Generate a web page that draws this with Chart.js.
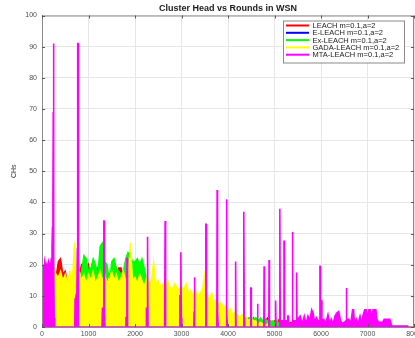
<!DOCTYPE html>
<html><head><meta charset="utf-8">
<script src="https://cdn.jsdelivr.net/npm/chart.js@4/dist/chart.umd.min.js"></script>
<style>
html,body{margin:0;padding:0;background:#fff;overflow:hidden;width:415px;height:338px}
#wrap{position:relative;width:440px;height:338px}
</style></head>
<body><div id="wrap"><canvas id="c" width="440" height="338"></canvas></div>
<script>
// ---- data (rounds step for the sampled series) ----
const ROUND_STEP = 50;
const seriesLabels = ["LEACH m=0.1,a=2","E-LEACH m=0.1,a=2","Ex-LEACH m=0.1,a=2","GADA-LEACH m=0.1,a=2","MTA-LEACH m=0.1,a=2"];
const xTicks = [0,1000,2000,3000,4000,5000,6000,7000,8000];
const yTicks = [0,10,20,30,40,50,60,70,80,90,100];

// LEACH, rounds 0..8000 every 50
const leachValues = [
 18,19,17,20,18,16,16,21,22,17,
 18,14,16,15,17,15,17,20,19,16,
 20,16,17,16,19,17,16,16,16,17,
 16,16,16,19,19,16,16,16,16,15,
 15,14,15,13,14,12,13,12,12,11,
 11,10,11,10,9,10,9,9,8,9,
 8,9,8,7,8,7,7,6,7,6,
 6,5,6,5,5,4,5,4,4,3,
 4,3,3,4,3,2.5,3,2,3,2,
 2,3,1.5,2,2.5,1.5,2,3,2,1.5,
 2,1.5,2.5,2,1.5,2,1,1.5,1,0.5,
 0,0,0,0,0,0,0,0,0,0,
 0,0,0,0,0,0,0,0,0,0,
 0,0,0,0,0,0,0,0,0,0,
 0,0,0,0,0,0,0,0,0,0,
 0,0,0,0,0,0,0,0,0,0,
 0];
// E-LEACH, rounds 0..4500 every 50
const eleachValues = [
 16,17,15,17,16,15,15,15,16,14,
 15,13,15,14,14,15,14,14,15,13,
 15,14,15,13,13,15,14,13,13,13,
 13,14,12,13,12,13,12,11,12,11,
 11,10,11,10,9,10,9,9,8,9,
 8,8,7,8,7,7,6,7,6,6,
 6,5,6,5,5,4,5,4,4,4,
 4,3,4,3,3,3,2,3,2,2,
 2,2,2,1.5,2,1.5,1,1.5,1,1,
 0];
// Ex-LEACH, rounds 0..5500 every 50
const exleachValues = [
 17,18,16,17,15,16,15,15,15,14,
 15,13,15,16,16,15,16,18,23,22,
 18,19,22,20,17,26,27,21,20,15,
 21,22,19,18,17,18,22,24,23,21,
 21,22,20,22,19,15,14,13,12,12,
 11,10,10,9,9,8,8,7,7,6,
 6,6,5,5,5,4,4,4,3,3,
 3,3,3,2,3,2,3,2,2,3,
 2,3,2,2,3,2,2,3,2.5,3,
 3,2.5,3,2,3,2,2.5,2,1.5,2,
 1.5,2,1,1.5,1,1.5,1,1,0.5,0.5,
 0];
// GADA-LEACH, rounds 0..5000 every 50
const gadaValues = [
 19,20,18,21,19,20,17,16,18,15,
 17,14,18,15,27,16,18,15,17,14,
 17,15,18,14,16,18,15,17,14,16,
 18,15,17,14,16,18,15,16,27,15,
 16,14,17,15,13,16,14,15,21,14,
 15,13,14,12,15,13,12,14,13,12,
 13,12,14,11,12,10,12,10,11,12,
 17,10,9,11,8,9,7,8,6,7,
 5,6,4,5,4,3,4,3,3,2,
 3,2,2,1,1.5,1,0.5,1,0,0,
 0];
// MTA-LEACH (irregular rounds)
const mtaRounds = [
 0,20,40,60,80,100,120,140,160,180,200,215,225,235,242,246,252,256,262,275,
 705,712,730,750,760,766,770,776,781,790,
 1290,1300,1322,1330,1337,1345,1355,
 1800,1806,1820,1826,1832,1840,
 2240,2246,2262,2267,2273,2280,
 2625,2631,2644,2648,2654,2662,
 2960,2966,2979,2983,2989,2996,3005,
 3265,3271,3276,3282,3288,
 3515,3521,3526,3532,3538,
 3760,3766,3772,3778,3790,
 3960,3966,3972,3978,3990,
 4155,4161,4167,4173,
 4330,4337,4343,4350,4360,
 4484,4490,4496,4502,
 4629,4634,4640,4645,
 4770,4776,4782,4788,
 4877,4883,4889,4895,
 5015,5021,5027,5033,
 5106,5112,5118,5124,
 5198,5204,5210,5216,
 5280,5285,5296,5302,
 5378,5384,5390,5396,
 5466,5472,5478,5484,
 5550,5600,5640,5680,5720,5760,5800,5830,5860,5900,5940,
 5972,5977,5983,5990,6010,6020,
 6060,6100,6150,6190,6220,6260,6300,6340,6380,6420,6460,
 6538,6543,6550,6556,6600,6640,6680,6700,6720,6760,6800,6840,6880,6900,6940,6970,
 7000,7030,7060,7090,7120,7150,7180,7200,7240,7280,7320,7360,7400,7440,7480,7520,7860,7880];
const mtaValues = [
 16,20,18,21,19,20,18,21,20,19,22,26,32,42,69,91,91,20,3,0,
 0,9,10,11,25,82,91,91,10,0,
 0,6,6,34,34,5,0,
 0,3,3,22,22,0,
 0,6,6,29,29,0,
 0,4,4,34,34,0,
 0,10,10,24,24,3,0,
 0,5,16,16,0,
 0,7,33,33,0,
 0,44,44,5,0,
 0,41,41,4,0,
 0,21,21,0,
 0,37,37,3,0,
 0,12.5,12.5,0,
 0,7.5,7.5,0,
 0,19.5,19.5,0,
 0,21.5,21.5,0,
 0,8.5,8.5,0,
 0,38,38,2,
 2,27.5,27.5,2,
 2,3.5,3.5,1,
 1,30.5,30.5,2,
 2,17.5,17.5,2,
 3.5,1,3.5,1,3.5,2,5.5,4.5,1.5,3,2,
 2,19.5,19.5,8.5,8.5,2,
 2.5,1,4,1,2.5,1,3.5,4.5,5,2,1,
 2,12.5,12.5,2.5,2.5,1,5.5,5.5,1,2.5,1,3.5,1,3.5,5.5,5.5,
 3,5.5,5.5,3,5.5,5.5,5.5,2.5,1.5,1.5,1.5,2.5,2.5,2.5,2.5,0.3,0.3,0];

const seriesColors = ['#ff0000','#0000ff','#00ff00','#ffff00','#ff00ff'];

// ---- build ----
const stepPoints = vals => vals.map((v,i)=>({x:i*ROUND_STEP, y:v}));
const mtaPoints = mtaRounds.map((r,i)=>({x:r, y:mtaValues[i]}));
const seriesData = [stepPoints(leachValues), stepPoints(eleachValues), stepPoints(exleachValues), stepPoints(gadaValues), mtaPoints];

const FONT = '"Liberation Sans", Arial, Helvetica, sans-serif';

const datasets = seriesLabels.map((lab,i)=>({
  label: lab,
  data: seriesData[i],
  borderColor: seriesColors[i],
  backgroundColor: seriesColors[i],
  borderWidth: i===4 ? 1.6 : 1.2,
  pointRadius: 0,
  tension: 0,
  fill: 'origin',
  order: 5 - i
}));

const framePlugin = {
  id:'frame',
  afterDatasetsDraw(chart){
    const {ctx, chartArea:a, scales:{x,y}} = chart;
    ctx.save();
    ctx.strokeStyle = '#8a8a8a';
    ctx.lineWidth = 1;
    ctx.beginPath();
    ctx.moveTo(a.left+0.5, a.top+0.5); ctx.lineTo(a.right-0.5, a.top+0.5);
    ctx.lineTo(a.right-0.5, a.bottom); 
    ctx.moveTo(a.left+0.5, a.top); ctx.lineTo(a.left+0.5, a.bottom);
    ctx.stroke();
    ctx.strokeStyle = '#555';
    ctx.beginPath();
    const tl = 3;
    xTicks.forEach(v=>{
      const px = Math.round(x.getPixelForValue(v))+0.5;
      ctx.moveTo(px, a.bottom); ctx.lineTo(px, a.bottom-tl);
      ctx.moveTo(px, a.top); ctx.lineTo(px, a.top+tl);
    });
    yTicks.forEach(v=>{
      const py = Math.round(y.getPixelForValue(v))+0.5;
      ctx.moveTo(a.left, py); ctx.lineTo(a.left+tl, py);
      ctx.moveTo(a.right, py); ctx.lineTo(a.right-tl, py);
    });
    ctx.stroke();
    ctx.restore();
  },
  afterDraw(chart){
    const {ctx, chartArea:a} = chart;
    ctx.save();
    // title
    ctx.font = 'bold 9px ' + FONT;
    ctx.fillStyle = '#1a1a1a';
    ctx.textAlign = 'center';
    ctx.textBaseline = 'middle';
    ctx.fillText('Cluster Head vs Rounds in WSN', (a.left+a.right)/2, 8.5);
    // legend
    const bx = a.right - 131, by = a.top + 5, bw = 121, bh = 42;
    ctx.fillStyle = '#fff';
    ctx.fillRect(bx, by, bw, bh);
    ctx.strokeStyle = '#8a8a8a';
    ctx.lineWidth = 1;
    ctx.strokeRect(bx+0.5, by+0.5, bw, bh);
    ctx.font = '7.5px ' + FONT;
    ctx.textAlign = 'left';
    chart.data.datasets.forEach((ds,i)=>{
      const yy = by + 5 + i*7.3;
      ctx.strokeStyle = ds.borderColor;
      ctx.lineWidth = 2;
      ctx.beginPath(); ctx.moveTo(bx+3, yy); ctx.lineTo(bx+26, yy); ctx.stroke();
      ctx.fillStyle = '#1a1a1a';
      ctx.fillText(ds.label, bx+29.5, yy+0.5);
    });
    ctx.restore();
  }
};

new Chart(document.getElementById('c'), {
  type:'line',
  data:{datasets},
  plugins:[framePlugin],
  options:{
    responsive:false, animation:false, devicePixelRatio:1,
    layout:{padding:{top:15.5, right:26, left:0, bottom:0}},
    plugins:{legend:{display:false}, tooltip:{enabled:false}, title:{display:false}},
    scales:{
      x:{type:'linear', min:0, max:8000,
         afterBuildTicks: s => { s.ticks = xTicks.map(v=>({value:v})); },
         ticks:{font:{family:FONT,size:7}, color:'#4d4d4d', padding:3, maxRotation:0, autoSkip:false, callback:v=>String(v)},
         grid:{color:'#e6e6e6', drawTicks:false}, border:{display:true, color:'#8a8a8a'},
         afterFit: s => { s.height = 11; }},
      y:{type:'linear', min:0, max:100,
         afterBuildTicks: s => { s.ticks = yTicks.map(v=>({value:v})); },
         ticks:{font:{family:FONT,size:7}, color:'#4d4d4d', padding:5, callback:v=>String(v)},
         grid:{color:'#e6e6e6', drawTicks:false}, border:{display:true, color:'#8a8a8a'},
         title:{display:true, text:'CHs', font:{family:FONT,size:7}, color:'#333', padding:{top:10,bottom:0}},
         afterFit: s => { s.width = 42; }}
    }
  }
});
</script></body></html>
